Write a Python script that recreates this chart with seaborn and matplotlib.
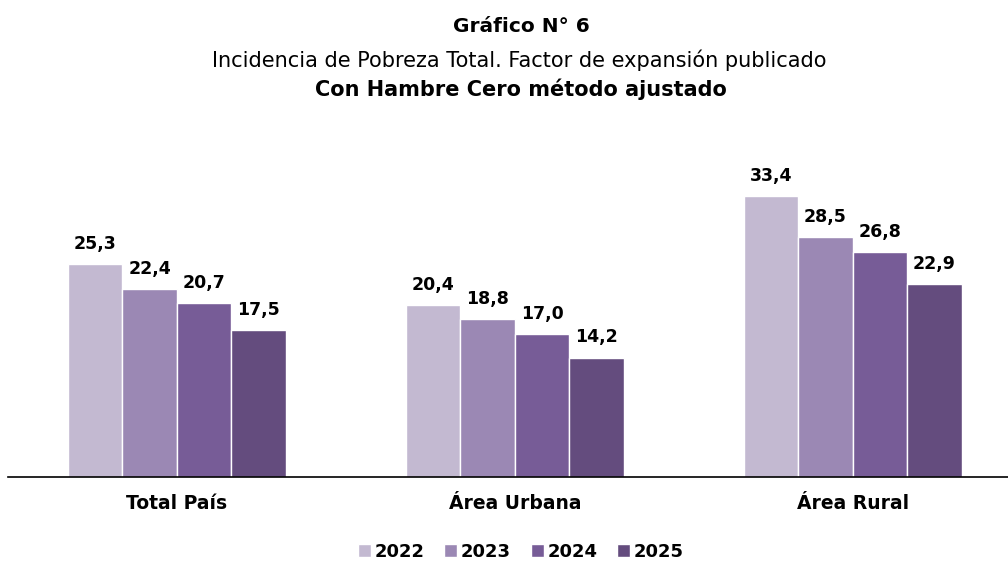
import matplotlib
matplotlib.use("Agg")
import matplotlib.pyplot as plt
import seaborn as sns
import pandas as pd

# datos del gráfico
categorias = ["Total País", "Área Urbana", "Área Rural"]
anios = ["2022", "2023", "2024", "2025"]
v2022 = [25.3, 20.4, 33.4]
v2023 = [22.4, 18.8, 28.5]
v2024 = [20.7, 17.0, 26.8]
v2025 = [17.5, 14.2, 22.9]
colores = ["#C3B9D1", "#9B88B4", "#775C97", "#644C7E"]

filas = []
for anio, vals in zip(anios, [v2022, v2023, v2024, v2025]):
    for cat, v in zip(categorias, vals):
        filas.append({"cat": cat, "anio": anio, "valor": v})
df = pd.DataFrame(filas)

sns.set_style("white")
plt.rcParams["font.family"] = ["DejaVu Sans"]
plt.rcParams["text.color"] = "black"

fig = plt.figure(figsize=(10.08, 5.61), dpi=100)
ax = fig.add_axes([8 / 1008, 1 - 477 / 561, 1000 / 1008, 336.4 / 561])

sns.barplot(data=df, x="cat", y="valor", hue="anio", palette=colores,
            width=0.645, gap=0, saturation=1, ax=ax, legend=True)

for cont in ax.containers:
    ax.bar_label(cont, labels=[f"{v:.1f}".replace(".", ",") for v in cont.datavalues],
                 padding=8, fontsize=12.5, fontweight="bold", color="black")

ax.set_ylim(0, 40)
ax.set_xlim(-0.5, 2.46)
ax.set_xlabel("")
ax.set_ylabel("")
ax.set_yticks([])
ax.tick_params(axis="x", length=0, pad=12, labelsize=13.5, labelcolor="black")
for t in ax.get_xticklabels():
    t.set_fontweight("bold")
for s in ["top", "left", "right"]:
    ax.spines[s].set_visible(False)
ax.spines["bottom"].set_color("black")
ax.spines["bottom"].set_linewidth(1.2)

handles, labels = ax.get_legend_handles_labels()
ax.get_legend().remove()
leg = fig.legend(handles, labels, loc="center", bbox_to_anchor=(521 / 1008, 1 - 552 / 561),
                 ncol=4, frameon=False, handlelength=0.7, handleheight=0.7,
                 handletextpad=0.22, columnspacing=1.1,
                 prop={"size": 13, "weight": "bold"}, labelcolor="black")

fig.text(521 / 1008, 1 - 32 / 561, "Gráfico N° 6", ha="center", va="baseline",
         fontsize=14.5, fontweight="bold", color="black")
fig.text(519 / 1008, 1 - 67 / 561, "Incidencia de Pobreza Total. Factor de expansión publicado",
         ha="center", va="baseline", fontsize=15, color="black")
fig.text(521 / 1008, 1 - 96 / 561, "Con Hambre Cero método ajustado", ha="center", va="baseline",
         fontsize=15, fontweight="bold", color="black")

fig.savefig("out.png", dpi=100)
